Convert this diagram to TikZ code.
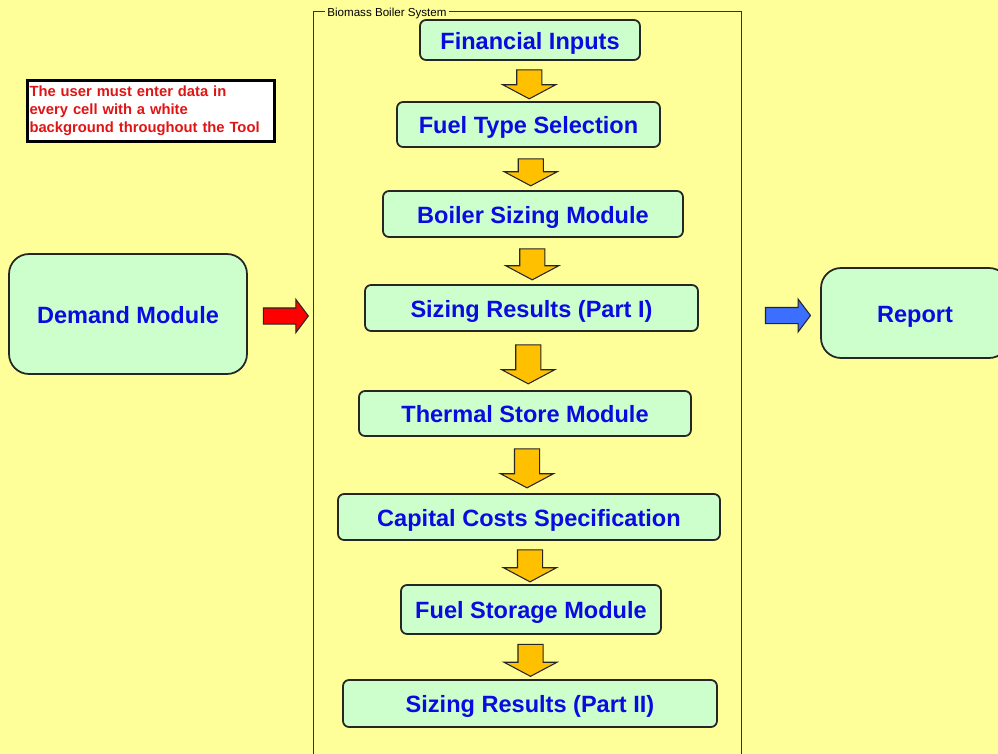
\documentclass[tikz,border=0pt]{standalone}
\usepackage{fontspec}
\setmainfont{Liberation Sans}
\usetikzlibrary{shapes.arrows,positioning,calc}

\definecolor{bgyellow}{RGB}{255,255,153}
\definecolor{boxgreen}{RGB}{204,255,204}
\definecolor{textblue}{RGB}{10,10,225}
\definecolor{notered}{RGB}{225,20,20}
\definecolor{arrowfill}{RGB}{255,192,0}
\definecolor{arrowred}{RGB}{255,0,0}
\definecolor{arrowblue}{RGB}{60,110,255}

\tikzset{
  modbox/.style={draw=black!85, line width=1pt, fill=boxgreen, rounded corners=0.12cm,
    text=textblue, font=\bfseries\fontsize{13.4}{16}\selectfont, inner sep=0pt,
    text height=10.6pt, text depth=0pt},
  bigbox/.style={modbox, rounded corners=0.4cm},
  notebox/.style={draw=black, line width=1.7pt, fill=white, text=notered,
    font=\bfseries\fontsize{8.4}{10.2}\selectfont, align=left, text width=4.86cm,
    inner xsep=0.05cm, minimum height=1.2cm},
  downarrow/.style={single arrow, draw=black!85, line width=0.6pt, fill=arrowfill, rotate=-90,
    inner xsep=0pt, inner ysep=0.24cm, minimum width=1.04cm,
    single arrow head extend=0.28cm, single arrow tip angle=124},
  sidearrow/.style={single arrow, draw=black!85, line width=0.6pt,
    inner xsep=0pt, inner ysep=0.15cm, minimum height=0.9cm, minimum width=0.64cm,
    single arrow head extend=0.17cm, single arrow tip angle=106}
}

\begin{document}
\begin{tikzpicture}[x=0.02cm, y=-0.02cm]
  \useasboundingbox (0,0) rectangle (998,754);
  \clip (0,0) rectangle (998,754);
  \fill[bgyellow] (0,0) rectangle (998,754);

  % group frame
  \node[draw=black!80, line width=0.7pt, minimum width=8.56cm, minimum height=16cm,
    anchor=north west, inner sep=0pt] (grp) at (313,11) {};
  \node[fill=bgyellow, inner sep=0.04cm, anchor=west, font=\fontsize{6.6}{8}\selectfont]
    (grplabel) at ($(grp.north west)+(12,2)$) {Biomass Boiler System};

  % modules
  \node[modbox, minimum width=4.4cm, minimum height=0.8cm] (fin) at (530,40) {Financial Inputs};
  \node[modbox, minimum width=5.26cm, minimum height=0.9cm] (fuel) at (528.5,124.5) {Fuel Type Selection};
  \node[modbox, minimum width=6cm, minimum height=0.92cm] (boil) at (533,214) {Boiler Sizing Module};
  \node[modbox, minimum width=6.66cm, minimum height=0.92cm] (res1) at (531.5,308) {Sizing Results (Part I)};
  \node[modbox, minimum width=6.64cm, minimum height=0.9cm] (therm) at (525,413.5) {Thermal Store Module};
  \node[modbox, minimum width=7.64cm, minimum height=0.92cm] (cap) at (529,517) {Capital Costs Specification};
  \node[modbox, minimum width=5.2cm, minimum height=0.98cm] (store) at (531,609.5) {Fuel Storage Module};
  \node[modbox, minimum width=7.48cm, minimum height=0.94cm] (res2) at (530,703.5) {Sizing Results (Part II)};

  \node[bigbox, minimum width=4.76cm, minimum height=2.4cm] (demand) at (128,314) {Demand Module};
  \node[bigbox, minimum width=3.76cm, minimum height=1.8cm] (report) at (915,313) {Report};

  \node[notebox] (note) at (151,111)
    {The user must enter data in\\every cell with a white\\background throughout the Tool};

  % flow arrows
  \node[downarrow, minimum height=0.58cm] (a1) at ($(fin.south)!0.5!(fuel.north)$) {};
  \node[downarrow, minimum height=0.54cm] (a2) at ($(fuel.south)!0.5!(boil.north)$) {};
  \node[downarrow, minimum height=0.62cm] (a3) at ($(boil.south)!0.5!(res1.north)$) {};
  \node[downarrow, minimum height=0.78cm] (a4) at ($(res1.south)!0.5!(therm.north)$) {};
  \node[downarrow, minimum height=0.78cm] (a5) at ($(therm.south)!0.5!(cap.north)$) {};
  \node[downarrow, minimum height=0.64cm] (a6) at ($(cap.south)!0.5!(store.north)$) {};
  \node[downarrow, minimum height=0.64cm] (a7) at ($(store.south)!0.5!(res2.north)$) {};

  \node[sidearrow, fill=arrowred, right=0.3cm of demand, yshift=-0.04cm] (inarrow) {};
  \node[sidearrow, fill=arrowblue, left=0.18cm of report, yshift=-0.05cm] (outarrow) {};
\end{tikzpicture}
\end{document}
